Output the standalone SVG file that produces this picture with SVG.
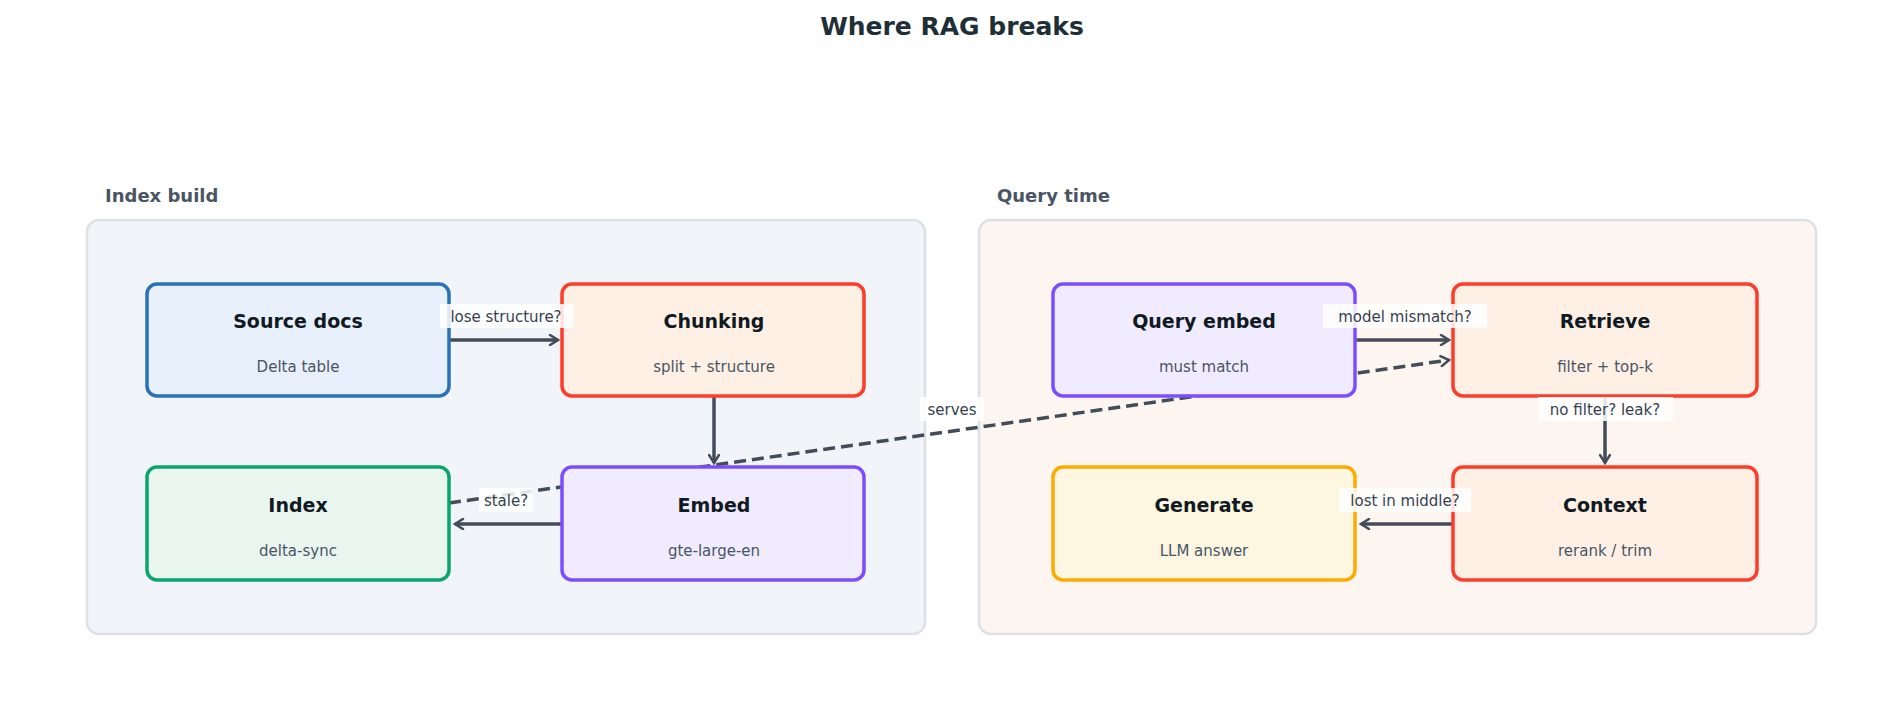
<svg xmlns="http://www.w3.org/2000/svg" width="1904" height="703" viewBox="0 0 1904 703">
<defs>
<marker id="ah" viewBox="0 0 12 12" refX="10" refY="6" markerWidth="12" markerHeight="12" markerUnits="userSpaceOnUse" orient="auto"><path d="M2,1 L10,6 L2,11" fill="none" stroke="#434d5a" stroke-width="2.5" stroke-linecap="round"/></marker>
<style>
text{font-family:"DejaVu Sans",sans-serif}
.t{font-size:19px;font-weight:bold;fill:#111a22;text-anchor:middle}
.s{font-size:15px;fill:#4a5563;text-anchor:middle}
.e{fill:none;stroke:#434d5a;stroke-width:3.5;marker-end:url(#ah)}
.d{stroke-dasharray:12 6}
.l{font-size:15px;fill:#374150;text-anchor:middle}
.lb{fill:#ffffff;fill-opacity:0.85}
.n{stroke-width:3.5}
</style>
</defs>
<rect width="1904" height="703" fill="#fff"/>
<text x="952" y="35" font-size="25" font-weight="bold" fill="#1f2f38" text-anchor="middle">Where RAG breaks</text>
<g id="panel-index"><rect x="87" y="220" width="838" height="414" rx="12" fill="#f1f4f9" stroke="#dde1e6" stroke-width="2.5"/><text x="105" y="202" font-size="18" font-weight="bold" fill="#4a5563">Index build</text></g>
<g id="panel-query"><rect x="979" y="220" width="837" height="414" rx="12" fill="#fdf5f0" stroke="#dde1e6" stroke-width="2.5"/><text x="997" y="202" font-size="18" font-weight="bold" fill="#4a5563">Query time</text></g>
<g id="connectors">
<path class="e d" d="M449,503 L1449,360"/>
<path class="e" d="M449,340 L558,340"/>
<path class="e" d="M714,396 L714,463"/>
<path class="e" d="M562,524 L455,524"/>
<path class="e" d="M1355,340 L1449,340"/>
<path class="e" d="M1605,396 L1605,463"/>
<path class="e" d="M1453,524 L1361,524"/>
</g>
<g id="n-source"><rect class="n" x="147" y="284" width="302" height="112" rx="10" fill="#e8f0fc" stroke="#2a71b8"/><text class="t" x="298" y="328">Source docs</text><text class="s" x="298" y="372">Delta table</text></g>
<g id="n-chunking"><rect class="n" x="562" y="284" width="302" height="112" rx="10" fill="#fff0e6" stroke="#ff3b2a"/><text class="t" x="714" y="328">Chunking</text><text class="s" x="714" y="372">split + structure</text></g>
<g id="n-index"><rect class="n" x="147" y="467" width="302" height="113" rx="10" fill="#e8f6ef" stroke="#0aa56f"/><text class="t" x="298" y="512">Index</text><text class="s" x="298" y="556">delta-sync</text></g>
<g id="n-embed"><rect class="n" x="562" y="467" width="302" height="113" rx="10" fill="#f0ebff" stroke="#7c4dff"/><text class="t" x="714" y="512">Embed</text><text class="s" x="714" y="556">gte-large-en</text></g>
<g id="n-qembed"><rect class="n" x="1053" y="284" width="302" height="112" rx="10" fill="#f0ebff" stroke="#7c4dff"/><text class="t" x="1204" y="328">Query embed</text><text class="s" x="1204" y="372">must match</text></g>
<g id="n-retrieve"><rect class="n" x="1453" y="284" width="304" height="112" rx="10" fill="#fff0e6" stroke="#ff3b2a"/><text class="t" x="1605" y="328">Retrieve</text><text class="s" x="1605" y="372">filter + top-k</text></g>
<g id="n-generate"><rect class="n" x="1053" y="467" width="302" height="113" rx="10" fill="#fdf6e1" stroke="#ffaa00"/><text class="t" x="1204" y="512">Generate</text><text class="s" x="1204" y="556">LLM answer</text></g>
<g id="n-context"><rect class="n" x="1453" y="467" width="304" height="113" rx="10" fill="#fff0e6" stroke="#ff3b2a"/><text class="t" x="1605" y="512">Context</text><text class="s" x="1605" y="556">rerank / trim</text></g>
<g id="labels">
<rect class="lb" x="440" y="304" width="133" height="24"/><text class="l" x="506" y="322">lose structure?</text>
<rect class="lb" x="479" y="488" width="54" height="24"/><text class="l" x="506" y="506">stale?</text>
<rect class="lb" x="920" y="397" width="64" height="24"/><text class="l" x="952" y="415">serves</text>
<rect class="lb" x="1323" y="304" width="164" height="24"/><text class="l" x="1405" y="322">model mismatch?</text>
<rect class="lb" x="1538" y="397" width="135" height="24"/><text class="l" x="1605" y="415">no filter? leak?</text>
<rect class="lb" x="1339" y="488" width="132" height="24"/><text class="l" x="1405" y="506">lost in middle?</text>
</g>
</svg>
